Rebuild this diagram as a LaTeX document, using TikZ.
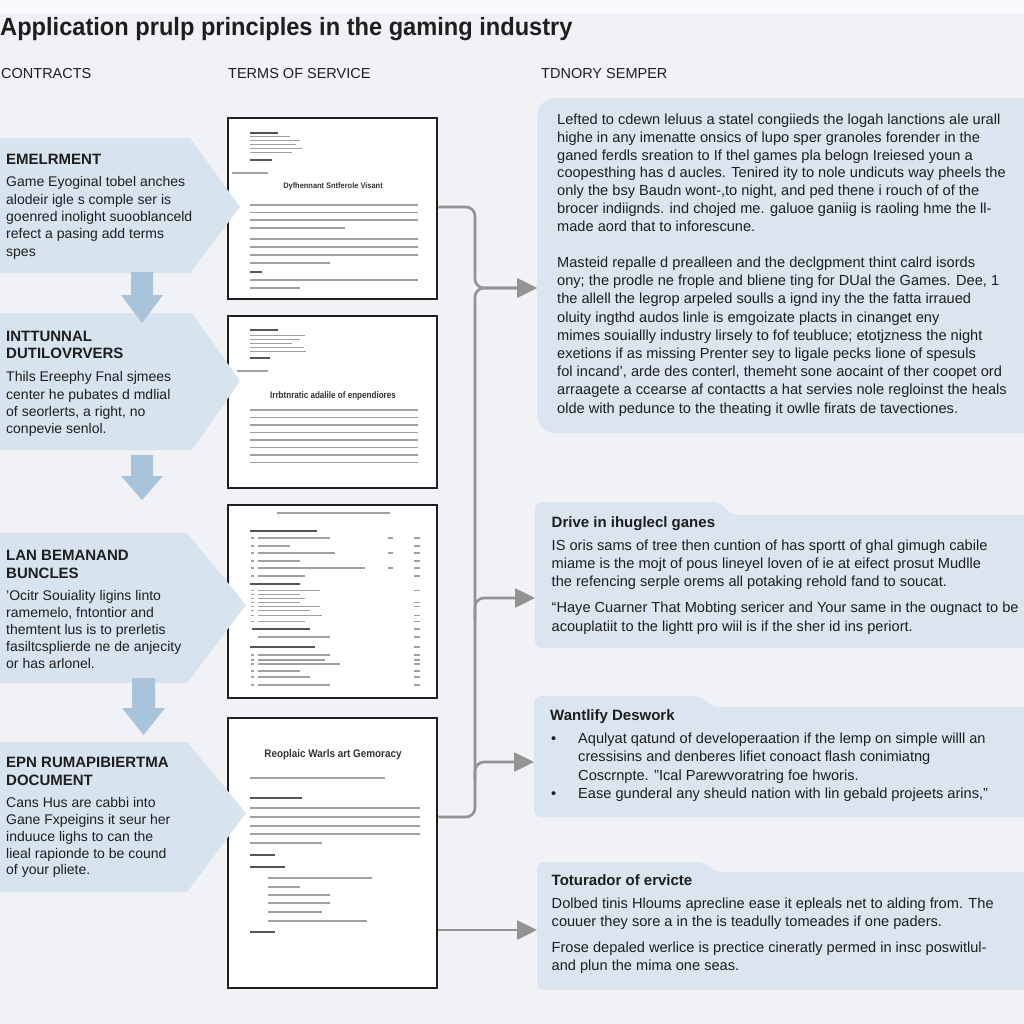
\documentclass[tikz,border=0pt]{standalone}
\usepackage{fontspec}
\setmainfont{Liberation Sans}
\usepackage{graphicx}
\usetikzlibrary{arrows.meta}
\definecolor{bg}{HTML}{F1F2F6}
\definecolor{chev}{HTML}{D7E3EF}
\definecolor{downarr}{HTML}{A9C3DB}
\definecolor{rboxc}{HTML}{DAE5F0}
\definecolor{conncol}{HTML}{939393}
\definecolor{txt}{HTML}{1E1E1E}
\definecolor{doctxt}{HTML}{A0A0A0}
\definecolor{dochead}{HTML}{555555}
\begin{document}
\begin{tikzpicture}[x=1pt,y=-1pt,
  conn/.style={draw=conncol, line width=2.6pt, rounded corners=9pt},
  tip/.style={-{Triangle[length=20pt,width=19pt]}},
  body/.style={anchor=north west, inner sep=0pt, align=left, text=txt, font=\fontsize{14}{17.3}\selectfont},
  ttl/.style={anchor=north west, inner sep=0pt, align=left, text=txt, font=\bfseries\fontsize{15}{18}\selectfont},
  hdr/.style={anchor=base west, inner sep=0pt, text=txt, font=\fontsize{14.5}{17}\selectfont},
  docbox/.style={draw=black!88, line width=2.4pt, fill=white, minimum width=209pt, anchor=north west, inner sep=0pt},
  tl/.style={draw=doctxt, line width=1.5pt},
  th/.style={draw=dochead, line width=1.9pt},
  doctitle/.style={inner sep=0pt, text=black!80, font=\bfseries\fontsize{8}{9}\selectfont},
  chevron/.style={fill=chev},
  darr/.style={fill=downarr},
  rshape/.style={fill=rboxc, rounded corners=7pt}
]
\useasboundingbox (0,0) rectangle (1024,1024);
\clip (0,0) rectangle (1024,1024);
\fill[bg] (0,0) rectangle (1024,1024);
\fill[white!55!bg] (0,0) rectangle (1024,13);

% title and headers
\node[anchor=base west, inner sep=0pt, text=txt, font=\bfseries\fontsize{25}{29}\selectfont] (title) at (0,36) {\scalebox{0.945}[1]{Application prulp principles in the gaming industry}};
\node[hdr] (h1) at (1,79) {CONTRACTS};
\node[hdr] (h2) at (228,79) {TERMS OF SERVICE};
\node[hdr] (h3) at (541,79) {TDNORY SEMPER};

% documents
\node[docbox, minimum height=181pt] (d1) at (227,117) {};
\node[docbox, minimum height=172pt] (d2) at (227,315) {};
\node[docbox, minimum height=193pt] (d3) at (227,504) {};
\node[docbox, minimum height=270pt] (d4) at (227,717) {};

% doc 1 content
\draw[th] (250,133) -- (278,133);
\foreach \y/\e in {137/290,141/300,145/296,149/302,153/292}{\draw[tl,line width=1pt] (250,\y) -- (\e,\y);}
\draw[th,line width=1.4pt] (250,160) -- (272,160);
\draw[tl,line width=1.2pt] (232,173) -- (268,173);
\node[doctitle] (d1t) at (333,186) {\scalebox{0.93}[1]{Dyfhennant Sntferole Visant}};
\foreach \y/\e in {205/418,212.5/418,220/418,228/345}{\draw[tl] (250,\y) -- (\e,\y);}
\foreach \y/\e in {239/418,247/418,255/418,263/330}{\draw[tl] (250,\y) -- (\e,\y);}
\draw[th,line width=1.3pt] (250,272) -- (262,272);
\draw[tl] (250,280) -- (418,280);
\draw[tl] (250,288) -- (300,288);

% doc 2 content
\draw[th] (250,330) -- (278,330);
\foreach \y/\e in {335/305,339/300,343/292,347/304,351/306}{\draw[tl,line width=1pt] (250,\y) -- (\e,\y);}
\draw[th,line width=1.3pt] (250,358) -- (270,358);
\draw[tl,line width=1.2pt] (237,371) -- (268,371);
\node[doctitle, font=\bfseries\fontsize{9.5}{10}\selectfont] (d2t) at (333,396) {\scalebox{0.85}[1]{Irrbtnratic adalile of enpendiores}};
\foreach \y in {410,417.5,425,432.5,440,447.5,455,462.5}{\draw[tl] (250,\y) -- (418,\y);}

% doc 3 content
\draw[tl,line width=1.1pt] (277,513) -- (390,513);
\draw[th] (250,531) -- (317,531);
\foreach \y/\e in {538/330,546/290,553/335,561/300,568/365,576/305}{
  \draw[tl,line width=1.2pt] (251,\y) -- (254,\y);
  \draw[tl,line width=1.2pt] (258,\y) -- (\e,\y);
  \draw[tl,line width=1.2pt] (414,\y) -- (420,\y);}
\foreach \y in {538,553,568}{\draw[tl,line width=1.2pt] (388,\y) -- (393,\y);}
\draw[th] (250,584) -- (300,584);
\foreach \y/\e in {590/320,594/300,598/305,602/300,606/320,610/310,615/322,621/305}{
  \draw[tl,line width=1pt] (251,\y) -- (254,\y);
  \draw[tl,line width=1pt] (258,\y) -- (\e,\y);}
\foreach \y in {590,602,606,615,621}{\draw[tl,line width=1pt] (414,\y) -- (420,\y);}
\draw[th] (252,629) -- (310,629);
\draw[tl,line width=1.2pt] (414,629) -- (420,629);
\draw[tl,line width=1.2pt] (258,637) -- (330,637);
\draw[tl,line width=1.2pt] (414,637) -- (420,637);
\draw[th] (250,647) -- (315,647);
\draw[tl,line width=1.2pt] (414,647) -- (420,647);
\foreach \y/\e in {655/330,660/325,664/340,671/300,677/310,685/330}{
  \draw[tl,line width=1.1pt] (251,\y) -- (254,\y);
  \draw[tl,line width=1.1pt] (258,\y) -- (\e,\y);
  \draw[tl,line width=1.1pt] (414,\y) -- (420,\y);}

% doc 4 content
\node[doctitle, font=\bfseries\fontsize{11}{12}\selectfont] (d4t) at (333,755) {\scalebox{0.9}[1]{Reoplaic Warls art Gemoracy}};
\draw[tl,line width=1.2pt] (250,778) -- (385,778);
\draw[th] (250,798) -- (302,798);
\foreach \y/\e in {808/420,817/420,826/420,834/420,843/322}{\draw[tl] (250,\y) -- (\e,\y);}
\draw[th] (250,855) -- (275,855);
\draw[th] (250,867) -- (285,867);
\foreach \y/\e in {878/372,887/300,895/330,903/330,912/322,921/367}{\draw[tl,line width=1.2pt] (268,\y) -- (\e,\y);}
\draw[th] (250,932) -- (275,932);

% left chevrons
\fill[chevron] (-10,138) -- (190,138) -- (240,207) -- (190,273) -- (-10,273) -- cycle;
\fill[chevron] (-10,313) -- (192,313) -- (240,381) -- (192,450) -- (-10,450) -- cycle;
\fill[chevron] (-10,533) -- (187,533) -- (246,605) -- (187,683) -- (-10,683) -- cycle;
\fill[chevron] (-10,742) -- (187,742) -- (246,813) -- (187,892) -- (-10,892) -- cycle;

% down arrows
\fill[darr] (131,272) -- (153,272) -- (153,295) -- (163,295) -- (142,323) -- (121,295) -- (131,295) -- cycle;
\fill[darr] (131,455) -- (153,455) -- (153,476) -- (163,476) -- (142,500) -- (121,476) -- (131,476) -- cycle;
\fill[darr] (132,678) -- (155,678) -- (155,708) -- (165,708) -- (143.5,735) -- (122,708) -- (132,708) -- cycle;

% left texts
\node[ttl] (l1t) at (6,151.8) {\strut EMELRMENT};
\node[body] (l1b) at (6,174.5) {\strut Game Eyoginal tobel anches\\alodeir igle s comple ser is\\goenred inolight suooblanceld\\refect a pasing add terms\\spes};
\node[ttl, font=\bfseries\fontsize{15}{17.3}\selectfont] (l2t) at (6,329.3) {\strut INTTUNNAL\\DUTILOVRVERS};
\node[body] (l2b) at (6,369.5) {\strut Thils Ereephy Fnal sjmees\\center he pubates d mdlial\\of seorlerts, a right, no\\conpevie senlol.};
\node[ttl] (l3t) at (6,547.8) {\strut LAN BEMANAND\\BUNCLES};
\node[body, font=\fontsize{14}{16.8}\selectfont] (l3b) at (6,588.9) {\strut 'Ocitr Souiality ligins linto\\ramemelo, fntontior and\\themtent lus is to prerletis\\fasiltcsplierde ne de anjecity\\or has arlonel.};
\node[ttl] (l4t) at (6,754.8) {\strut EPN RUMAPIBIERTMA\\DOCUMENT};
\node[body, font=\fontsize{14}{16.8}\selectfont] (l4b) at (6,795.8) {\strut Cans Hus are cabbi into\\Gane Fxpeigins it seur her\\induuce lighs to can the\\lieal rapionde to be cound\\of your pliete.};

% right boxes
\node[fill=rboxc, rounded corners=18pt, minimum width=520pt, minimum height=335pt, anchor=north west, inner sep=0pt] (r1) at (537,98) {};
\fill[rshape] (535,648) -- (535,502) -- (720,502) -- (732,515) -- (1050,515) -- (1050,648) -- cycle;
\fill[rshape] (534,817) -- (534,696) -- (700,696) -- (712,707) -- (1050,707) -- (1050,817) -- cycle;
\fill[rshape] (537,990) -- (537,862) -- (704,862) -- (716,872) -- (1050,872) -- (1050,990) -- cycle;
\coordinate (r2) at (535,598);
\coordinate (r3) at (534,762);
\coordinate (r4) at (537,930);

% right texts
\node[body, font=\fontsize{14.6}{17.9}\selectfont] (r1a) at (557,111.5) {\strut Lefted to cdewn leluus a statel congiieds the logah lanctions ale urall\\highe in any imenatte onsics of lupo sper granoles forender in the\\ganed ferdls sreation to If thel games pla belogn Ireiesed youn a\\coopesthing has d aucles. Tenired ity to nole undicuts way pheels the\\only the bsy Baudn wont-,to night, and ped thene i rouch of of the\\brocer indiignds. ind chojed me. galuoe ganiig is raoling hme the ll-\\made aord that to inforescune.};
\node[body, font=\fontsize{14.6}{18.2}\selectfont] (r1b) at (557,254.6) {\strut Masteid repalle d prealleen and the declgpment thint calrd isords\\ony; the prodle ne frople and bliene ting for DUal the Games. Dee, 1\\the allell the legrop arpeled soulls a ignd iny the the fatta irraued\\oluity ingthd audos linle is emgoizate placts in cinanget eny\\mimes souiallly industry lirsely to fof teubluce; etotjzness the night\\exetions if as missing Prenter sey to ligale pecks lione of spesuls\\fol incand', arde des conterl, themeht sone aocaint of ther coopet ord\\arraagete a ccearse af contactts a hat servies nole regloinst the heals\\olde with pedunce to the theating it owlle firats de tavectiones.};

\node[ttl] (r2t) at (551.5,514.5) {\strut Drive in ihuglecl ganes};
\node[body, font=\fontsize{14.6}{18}\selectfont] (r2a) at (551.5,537.5) {\strut IS oris sams of tree then cuntion of has sportt of ghal gimugh cabile\\miame is the mojt of pous lineyel loven of ie at eifect prosut Mudlle\\the refencing serple orems all potaking rehold fand to soucat.};
\node[body, font=\fontsize{14.6}{18.3}\selectfont] (r2b) at (551.5,599.8) {\strut “Haye Cuarner That Mobting sericer and Your same in the ougnact to be\\acouplatiit to the lightt pro wiil is if the sher id ins periort.};

\node[ttl] (r3t) at (550,707.8) {\strut Wantlify Deswork};
\node[body, font=\fontsize{14.6}{18.4}\selectfont] (r3d) at (551,730.5) {\strut •\\\\\\•};
\node[body, font=\fontsize{14.6}{18.4}\selectfont] (r3a) at (578,730.5) {\strut Aqulyat qatund of developeraation if the lemp on simple willl an\\cressisins and denberes lifiet conoact flash conimiatng\\Coscrnpte. "Ical Parewvoratring foe hworis.\\Ease gunderal any sheuld nation with lin gebald projeets arins,"};

\node[ttl] (r4t) at (551.5,872.8) {\strut Toturador of ervicte};
\node[body, font=\fontsize{14.6}{17.7}\selectfont] (r4a) at (551.5,896) {\strut Dolbed tinis Hloums aprecline ease it epleals net to alding from. The\\couuer they sore a in the is teadully tomeades if one paders.};
\node[body, font=\fontsize{14.6}{18}\selectfont] (r4b) at (551.5,940) {\strut Frose depaled werlice is prectice cineratly permed in insc poswitlul-\\and plun the mima one seas.};

% connectors
\draw[conn, tip] (d1.east |- 0,207) -- (475,207) -- (475,288) -- (r1.west |- 0,288);
\draw[conn, tip] (475,620) -- (475,288) -- (r1.west |- 0,288);
\draw[conn, tip] (475,780) -- (475,598) -- (r2);
\draw[conn, tip] (d4.east |- 0,817) -- (475,817) -- (475,762) -- (r3);
\draw[conn, tip] (d4.east |- 0,930) -- (r4);
\end{tikzpicture}
\end{document}
